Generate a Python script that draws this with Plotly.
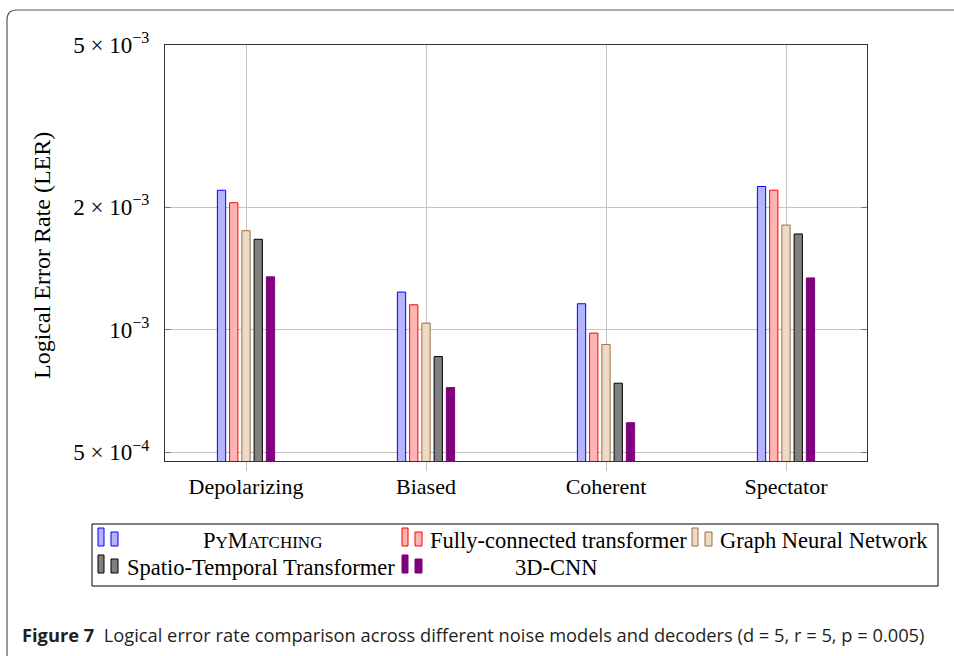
import plotly.graph_objects as go

categories = ["Depolarizing", "Biased", "Coherent", "Spectator"]
series_names = ["PyMatching", "Fully-connected transformer", "Graph Neural Network",
                "Spatio-Temporal Transformer", "3D-CNN"]
pymatching = [2.20e-3, 1.237e-3, 1.158e-3, 2.247e-3]
fc_transformer = [2.05e-3, 1.151e-3, 0.981e-3, 2.20e-3]
gnn = [1.75e-3, 1.038e-3, 0.920e-3, 1.807e-3]
st_transformer = [1.667e-3, 0.859e-3, 0.739e-3, 1.718e-3]
cnn3d = [1.348e-3, 0.721e-3, 0.591e-3, 1.34e-3]
ytick_vals = [5e-4, 1e-3, 2e-3, 5e-3]
ytick_text = ["5 × 10<sup>−4</sup>", "10<sup>−3</sup>", "2 × 10<sup>−3</sup>", "5 × 10<sup>−3</sup>"]

values = [pymatching, fc_transformer, gnn, st_transformer, cnn3d]
fills = ["#b3b3ff", "#ffb3b3", "#ecd9c6", "#808080", "#800080"]
lines = ["#0000ff", "#ff0000", "#9c6f44", "#000000", "#800080"]

W, H = 954, 656
PX0, PX1, PY0, PY1 = 165, 867, 45, 461

def px(x):
    return (x - PX0) / (PX1 - PX0)

def py(y):
    return (PY1 - y) / (PY1 - PY0)

SERIF = "Liberation Serif, DejaVu Serif, serif"

fig = go.Figure()
pitch, bw = 0.068, 0.046
for i, (name, vals) in enumerate(zip(series_names, values)):
    fig.add_trace(go.Bar(
        x=categories, y=vals, name=name,
        width=bw, offset=(i - 2) * pitch - bw / 2,
        marker=dict(color=fills[i], line=dict(color=lines[i], width=1)),
        showlegend=False,
    ))

shapes = []
annotations = []

# outer rounded frame
r = 10
fx, fy = 7, 10
path = (f"M {px(fx)} {py(700)} L {px(fx)} {py(fy + r)} "
        f"Q {px(fx)} {py(fy)} {px(fx + r)} {py(fy)} L {px(1000)} {py(fy)}")
shapes.append(dict(type="path", path=path, xref="paper", yref="paper",
                   line=dict(color="#555555", width=1.2), layer="below"))

# legend box
shapes.append(dict(type="rect", xref="paper", yref="paper",
                   x0=px(92), x1=px(938), y0=py(524), y1=py(586),
                   line=dict(color="#000000", width=1)))

glyph_x = [98, 402, 692, 98, 402]
row_top = [528, 528, 528, 555, 555]
text_x = [262, 558, 824, 261, 556]
labels = ["P<span style='font-size:17px'>Y</span>M<span style='font-size:17px'>ATCHING</span>",
          "Fully-connected transformer", "Graph Neural Network",
          "Spatio-Temporal Transformer", "3D-CNN"]
for i in range(5):
    gx, gt = glyph_x[i], row_top[i]
    shapes.append(dict(type="rect", xref="paper", yref="paper",
                       x0=px(gx), x1=px(gx + 6), y0=py(gt + 18), y1=py(gt),
                       fillcolor=fills[i], line=dict(color=lines[i], width=1)))
    shapes.append(dict(type="rect", xref="paper", yref="paper",
                       x0=px(gx + 13), x1=px(gx + 20), y0=py(gt + 18), y1=py(gt + 4),
                       fillcolor=fills[i], line=dict(color=lines[i], width=1)))
    annotations.append(dict(xref="paper", yref="paper", x=px(text_x[i]), y=py(gt + 12),
                            text=labels[i], showarrow=False, xanchor="center", yanchor="middle",
                            font=dict(family=SERIF, size=22.5, color="#000000")))

# y axis title
annotations.append(dict(xref="paper", yref="paper", x=px(42), y=py(256),
                        text="Logical Error Rate (LER)", textangle=-90, showarrow=False,
                        xanchor="center", yanchor="middle",
                        font=dict(family=SERIF, size=24, color="#000000")))

# caption
annotations.append(dict(xref="paper", yref="paper", x=px(20), y=py(634),
                        text="<b>Figure 7</b>  Logical error rate comparison across different noise models and decoders (d = 5, r = 5, p = 0.005)",
                        showarrow=False, xanchor="left", yanchor="middle",
                        font=dict(family="Open Sans, sans-serif", size=18.3, color="#231f20")))

fig.update_layout(
    width=W, height=H,
    margin=dict(l=PX0, r=W - PX1, t=PY0, b=H - PY1, pad=0),
    paper_bgcolor="white", plot_bgcolor="white",
    barmode="overlay",
    shapes=shapes, annotations=annotations,
    showlegend=False,
)
fig.update_xaxes(
    type="category", range=[-0.45, 3.45],
    showgrid=True, gridcolor="#c4c4c4", gridwidth=1,
    showline=True, linecolor="#333333", linewidth=1, mirror=True,
    ticks="outside", ticklen=9, tickcolor="#c4c4c4", tickwidth=1,
    ticklabelstandoff=-3,
    tickfont=dict(family=SERIF, size=22, color="#000000"),
)
fig.update_yaxes(
    type="log", range=[-3.3224, -2.3010],
    tickvals=ytick_vals, ticktext=ytick_text,
    showgrid=True, gridcolor="#c4c4c4", gridwidth=1,
    showline=True, linecolor="#333333", linewidth=1, mirror="ticks",
    ticks="inside", ticklen=6, tickcolor="#777777", tickwidth=1,
    ticklabelstandoff=10,
    tickfont=dict(family=SERIF, size=23, color="#000000"),
)

fig.write_html("out.html")
